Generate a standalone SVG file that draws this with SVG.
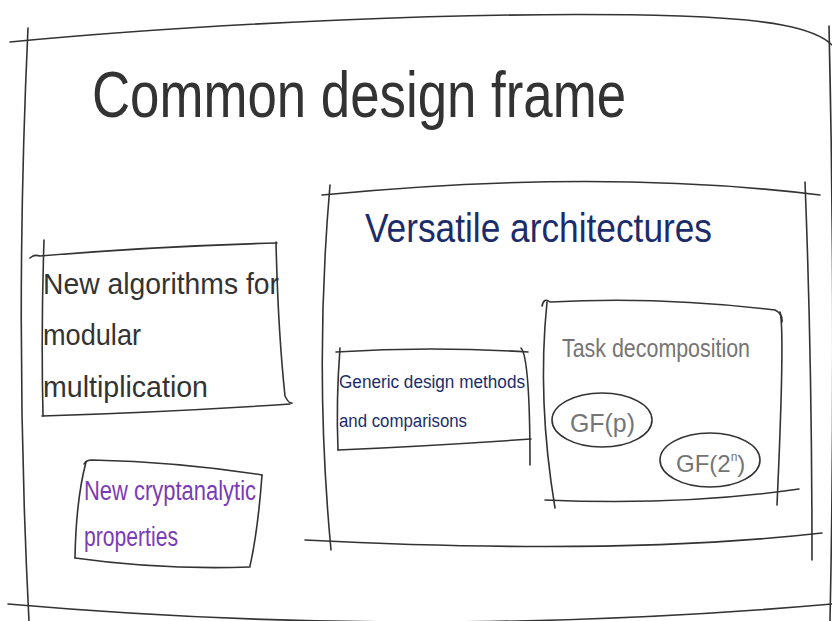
<svg xmlns="http://www.w3.org/2000/svg" width="832" height="621" viewBox="0 0 832 621">
<style>
.s{fill:none;stroke:#333;stroke-width:1.6;stroke-linecap:round;stroke-linejoin:round}
.t{font-family:"Liberation Sans","DejaVu Sans",sans-serif}
.dark{fill:#333}
.navy{fill:#1b2c6b}
.purple{fill:#7a3cb6}
.gray{fill:#757575}
</style>
<rect width="832" height="621" fill="#fff"/>
<g id="common-design-frame">
<path class="s" d="M10,42 C200,24 480,10 680,16 C770,19 815,28 832,45"/>
<path class="s" d="M28,28 Q14,330 29,621"/>
<path class="s" d="M829,26 Q836,330 830,621"/>
<path class="s" d="M8,604 Q420,640 832,604"/>
<text class="t dark" x="92" y="117" font-size="64" textLength="534" lengthAdjust="spacingAndGlyphs">Common design frame</text>
</g>
<g id="versatile-architectures">
<path class="s" d="M322,195 Q600,168 820,195"/>
<path class="s" d="M330,185 Q314,370 331,550"/>
<path class="s" d="M805,182 Q812,360 812,560"/>
<path class="s" d="M305,540 Q620,556 822,533"/>
<text class="t navy" x="365" y="242" font-size="40" textLength="347" lengthAdjust="spacingAndGlyphs">Versatile architectures</text>
</g>
<g id="new-algorithms">
<path class="s" d="M30,258 Q34,254 40,256 Q160,246 277,243"/>
<path class="s" d="M44,240 Q41,330 43,416"/>
<path class="s" d="M276,242 Q278,330 285,396 Q289,404 292,403"/>
<path class="s" d="M42,416 Q170,412 290,404"/>
<text class="t dark" x="43" y="294" font-size="30" textLength="236" lengthAdjust="spacingAndGlyphs">New algorithms for</text>
<text class="t dark" x="43" y="345" font-size="30" textLength="98" lengthAdjust="spacingAndGlyphs">modular</text>
<text class="t dark" x="43" y="397" font-size="30" textLength="165" lengthAdjust="spacingAndGlyphs">multiplication</text>
</g>
<g id="new-cryptanalytic">
<path class="s" d="M84,464 Q86,460 92,460 Q180,462 262,475"/>
<path class="s" d="M86,462 Q76,500 75,558"/>
<path class="s" d="M262,475 Q258,530 250,566"/>
<path class="s" d="M75,558 Q160,570 250,567"/>
<text class="t purple" x="84" y="500" font-size="27" textLength="172" lengthAdjust="spacingAndGlyphs">New cryptanalytic</text>
<text class="t purple" x="84" y="546" font-size="27" textLength="94" lengthAdjust="spacingAndGlyphs">properties</text>
</g>
<g id="generic-design">
<path class="s" d="M336,352 Q430,346 528,352"/>
<path class="s" d="M340,348 Q336,400 338,450"/>
<path class="s" d="M521,348 Q530,358 530,465"/>
<path class="s" d="M338,450 Q430,446 531,439"/>
<text class="t navy" x="339" y="388" font-size="18" textLength="186" lengthAdjust="spacingAndGlyphs">Generic design methods</text>
<text class="t navy" x="339" y="427" font-size="18" textLength="128" lengthAdjust="spacingAndGlyphs">and comparisons</text>
</g>
<g id="task-decomposition">
<path class="s" d="M542,306 Q544,297 550,302 Q660,296 775,310 Q783,314 782,322"/>
<path class="s" d="M547,302 Q537,400 555,508"/>
<path class="s" d="M780,312 Q785,330 777,505"/>
<path class="s" d="M545,500 Q680,506 799,489"/>
<text class="t gray" x="562" y="357" font-size="26" textLength="188" lengthAdjust="spacingAndGlyphs">Task decomposition</text>
</g>
<g id="gf-p">
<ellipse class="s" cx="602" cy="420" rx="50" ry="27"/>
<text class="t gray" x="570" y="432" font-size="26" textLength="65" lengthAdjust="spacingAndGlyphs">GF(p)</text>
</g>
<g id="gf-2n">
<ellipse class="s" cx="710" cy="460" rx="50" ry="27"/>
<text class="t gray" x="676" y="472" font-size="24">GF(2<tspan font-size="12" dy="-11">n</tspan><tspan dy="11">)</tspan></text>
</g>
</svg>
